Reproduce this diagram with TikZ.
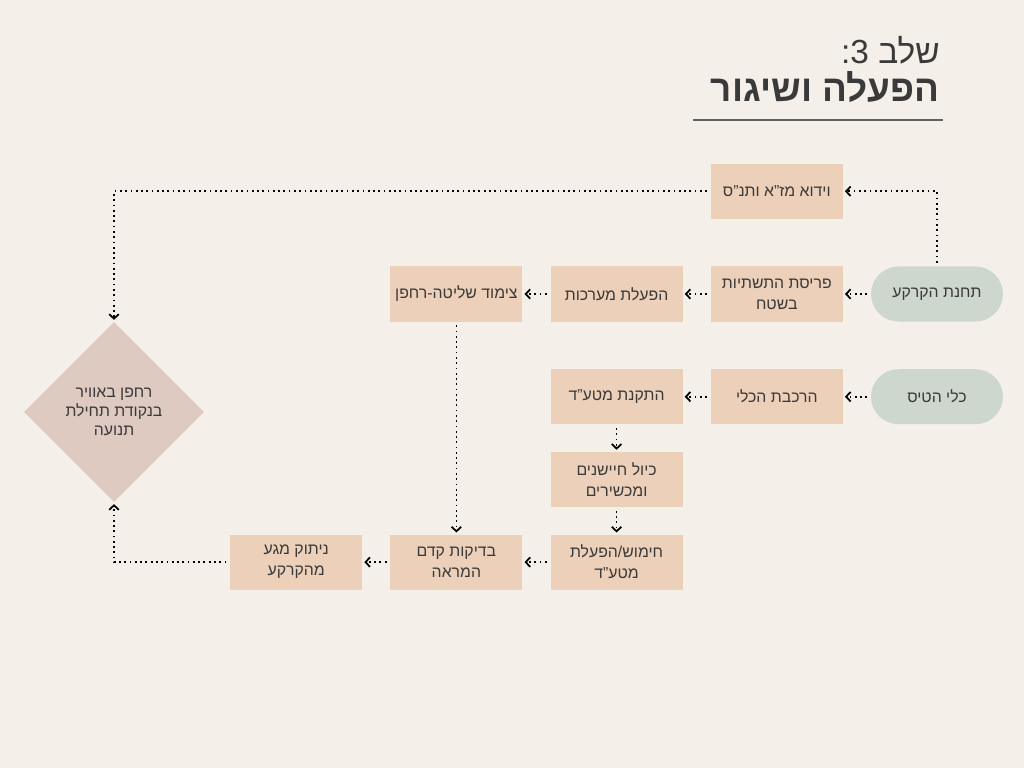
\documentclass[tikz,border=0pt]{standalone}
\usepackage{fontspec}
\setmainfont[Script=Hebrew]{Liberation Sans}
\TeXXeTstate=1
\usetikzlibrary{shapes.geometric, arrows.meta, positioning}

\definecolor{paper}{HTML}{F4EFE9}
\definecolor{sand}{HTML}{ECD0B9}
\definecolor{sage}{HTML}{CDD7CE}
\definecolor{rose}{HTML}{DFCAC1}
\definecolor{ink}{HTML}{3A3A3A}

\newcommand{\heb}[1]{\beginR #1\endR}

\begin{document}
\begin{tikzpicture}[
        node distance=0.94cm and 0.55cm,
        box/.style={rectangle, fill=sand, minimum width=2.64cm, minimum height=1.1cm, align=center, text=ink, font=\fontsize{9}{12}\selectfont, inner sep=2pt},
        pill/.style={box, fill=sage, rounded corners=0.55cm},
        decision/.style={diamond, fill=rose, minimum size=3.6cm, inner sep=0pt, align=center, text=ink, font=\fontsize{9}{11}\selectfont},
        arrow/.style={-{Straight Barb[length=0.9mm, width=1.9mm]}, line width=1pt, dotted, shorten <=2pt, shorten >=1pt}
    ]
        % Fundo e limites
        \fill[paper] (0,0) rectangle (20.48,-15.36);
        \useasboundingbox (0,0) rectangle (20.48,-15.36);

        % Titulo
        \node[anchor=east, text=ink, font=\fontsize{19}{22}\selectfont, inner sep=0pt] (stage) at (18.8,-1.0) {\heb{שלב 3\kern0pt:}};
        \node[anchor=east, text=ink, font=\fontsize{21}{24}\selectfont\bfseries, inner sep=0pt] (title) at (18.8,-1.74) {\heb{הפעלה ושיגור}};
        \draw[ink!80, line width=0.8pt] (13.86,-2.4) -- (18.86,-2.4);

        % Pontos de partida
        \node[pill] (ground) at (18.74,-5.88) {\heb{תחנת הקרקע}};
        \node[pill, below=of ground] (kit) {\heb{כלי הטיס}};

        % Linha de cima
        \node[box, left=of ground] (deploy) {\heb{פריסת התשתיות}\\\heb{בשטח}};
        \node[box, above=of deploy] (verify) {\heb{וידוא מז"א ותנ"ס}};
        \node[box, left=of deploy] (systems) {\heb{הפעלת מערכות}};
        \node[box, left=of systems] (link) {\heb{צימוד שליטה-רחפן}};

        % Linha do kit
        \node[box, left=of kit] (mount) {\heb{הרכבת הכלי}};
        \node[box, left=of mount] (payload) {\heb{התקנת מטע”ד}};
        \node[box, below=0.54cm of payload] (calib) {\heb{כיול חיישנים}\\\heb{ומכשירים}};
        \node[box, below=0.54cm of calib] (arm) {\heb{חימוש/הפעלת}\\\heb{מטע”ד}};
        \node[box, left=of arm] (checks) {\heb{בדיקות קדם}\\\heb{המראה}};
        \node[box, left=of checks] (detach) {\heb{ניתוק מגע}\\\heb{מהקרקע}};

        % Estado final
        \node[decision] (air) at (2.28,-8.24) {\heb{רחפן באוויר}\\\heb{בנקודת תחילת}\\\heb{תנועה}};

        % Ligações
        \draw[arrow] (ground.north) |- (verify.east);
        \draw[arrow] (verify.west) -| (air.north);
        \draw[arrow] (ground) -- (deploy);
        \draw[arrow] (deploy) -- (systems);
        \draw[arrow] (systems) -- (link);
        \draw[arrow] (link) -- (checks);
        \draw[arrow] (kit) -- (mount);
        \draw[arrow] (mount) -- (payload);
        \draw[arrow] (payload) -- (calib);
        \draw[arrow] (calib) -- (arm);
        \draw[arrow] (arm) -- (checks);
        \draw[arrow] (checks) -- (detach);
        \draw[arrow] (detach.west) -| (air.south);

    \end{tikzpicture}
\end{document}
